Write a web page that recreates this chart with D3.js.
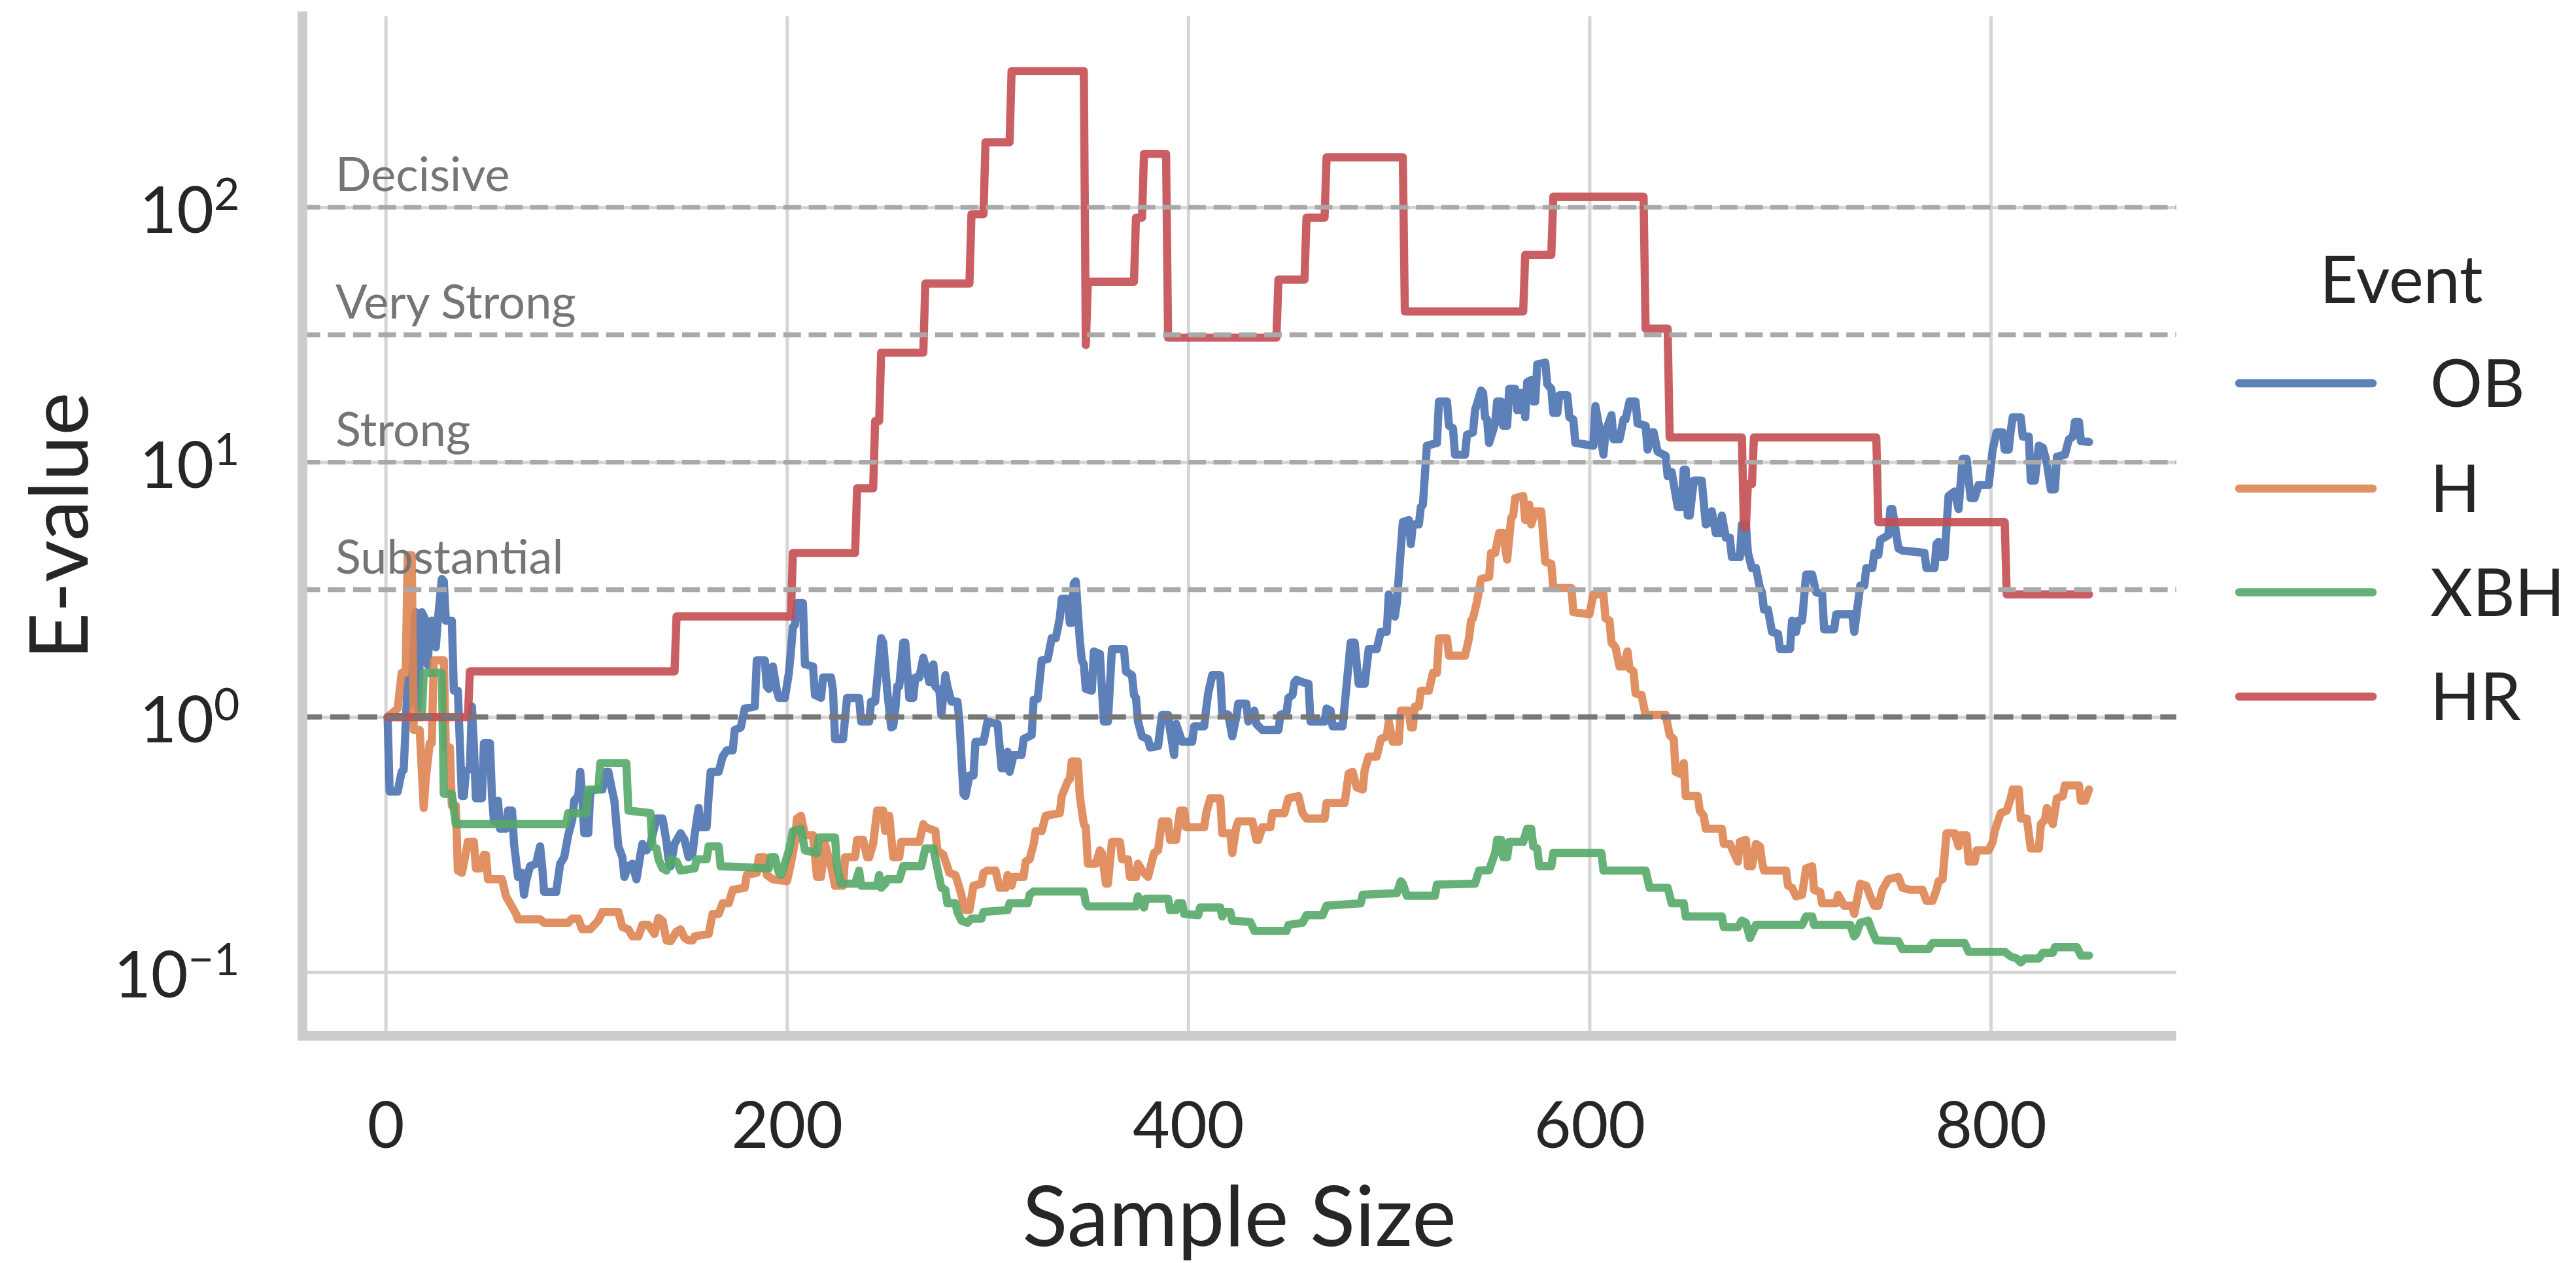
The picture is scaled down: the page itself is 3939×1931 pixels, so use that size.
<!DOCTYPE html>
<html>
<head>
<meta charset="utf-8">
<script src="https://cdn.jsdelivr.net/npm/d3@7"></script>
<style>
  html, body { margin: 0; padding: 0; background: #ffffff; }
  svg { display: block; }
  text { font-family: Lato, "Noto Sans", "DejaVu Sans", sans-serif; }
</style>
</head>
<body>
<svg id="chart" width="3939" height="1931"></svg>
<script>
// ---- data ---------------------------------------------------------------
const events = ["OB", "H", "XBH", "HR"];
const palette = ["#4C72B0", "#DD8452", "#55A868", "#C44E52"];

const xTicks = [0, 200, 400, 600, 800];
const yTicks = [0.1, 1, 10, 100];
const yTickExponents = ["\u22121", "0", "1", "2"];

// Jeffreys evidence thresholds
const thresholdValues = [3.162, 10, 31.62, 100];
const thresholdLabels = ["Substantial", "Strong", "Very Strong", "Decisive"];
const neutralValue = 1;

// [sample size, E-value]
const OB = [[1,1.0],[2,0.51],[6,0.51],[8,0.61],[9,0.62],[11,1.40],[12,1.13],[13,1.37],[15,2.58],[16,1.08],[18,2.58],[20,2.39],[21,1.6],[22,2.30],[23,2.39],[25,1.88],[26,2.39],[28,3.48],[29,3.41],[30,2.39],[33,2.39],[34,1.27],[36,1.27],[38,0.49],[39,0.49],[40,0.61],[42,0.63],[43,1.10],[44,0.77],[45,0.48],[48,0.48],[49,0.79],[52,0.79],[53,0.49],[54,0.39],[56,0.47],[57,0.365],[60,0.365],[61,0.43],[63,0.43],[64,0.318],[66,0.236],[68,0.245],[69,0.201],[70,0.227],[72,0.26],[75,0.266],[77,0.311],[78,0.26],[79,0.206],[85,0.206],[87,0.266],[89,0.282],[91,0.344],[93,0.395],[94,0.47],[96,0.49],[97,0.61],[98,0.49],[99,0.35],[101,0.35],[102,0.51],[105,0.52],[108,0.52],[110,0.61],[111,0.61],[113,0.51],[114,0.47],[116,0.311],[118,0.282],[119,0.236],[121,0.26],[123,0.266],[125,0.231],[127,0.288],[128,0.318],[130,0.30],[132,0.318],[133,0.344],[135,0.40],[138,0.40],[140,0.324],[141,0.277],[142,0.26],[144,0.318],[147,0.35],
  [149,0.33],[151,0.282],[153,0.293],[154,0.344],[156,0.44],[157,0.37],[160,0.37],[161,0.49],[162,0.61],[166,0.61],[168,0.70],[170,0.74],[173,0.74],[174,0.89],[177,0.91],[179,1.08],[184,1.10],[185,1.67],[189,1.67],[190,1.32],[191,1.29],[193,1.58],[195,1.27],[196,1.19],[199,1.19],[201,1.49],[202,1.81],[203,2.25],[204,2.30],[205,2.80],[208,2.80],[209,1.61],[213,1.58],[214,1.22],[217,1.19],[218,1.43],[222,1.43],[223,1.27],[224,0.82],[228,0.82],[230,1.19],[236,1.19],[237,0.96],[241,0.96],[242,1.15],[244,1.15],[247,2.04],[248,1.96],[250,1.27],[252,0.91],[253,0.92],[254,1.06],[255,1.32],[256,1.32],[258,1.96],[259,1.96],[261,1.19],[263,1.19],[264,1.43],[266,1.43],[268,1.71],[270,1.49],[271,1.37],[273,1.61],[274,1.32],[276,1.27],[277,1.02],[279,1.46],[280,1.32],[282,1.15],[285,1.15],[286,0.96],[288,0.50],[289,0.49],[291,0.59],[293,0.59],[294,0.80],[298,0.80],[300,0.96],
  [305,0.94],[307,0.63],[309,0.63],[310,0.73],[311,0.61],[313,0.71],[317,0.71],[318,0.82],[322,0.85],[323,1.17],[325,1.18],[327,1.67],[330,1.69],[332,2.04],[334,2.04],[336,2.44],[337,2.91],[340,2.91],[341,2.34],[342,2.34],[343,3.34],[344,3.41],[346,2.00],[347,1.67],[348,1.61],[349,1.29],[352,1.27],[353,1.81],[356,1.77],[358,0.96],[360,0.96],[362,1.85],[368,1.85],[369,1.51],[372,1.46],[373,1.22],[374,1.19],[375,0.96],[377,0.84],[380,0.82],[381,0.76],[385,0.77],[387,1.02],[390,1.02],[391,0.89],[393,0.71],[394,0.94],[397,0.80],[402,0.80],[403,0.92],[408,0.92],[409,1.08],[410,1.24],[412,1.46],[416,1.46],[417,1.04],[420,1.02],[422,0.84],[424,1.0],[425,1.13],[429,1.13],[430,0.96],[433,1.06],[434,0.94],[437,0.89],[445,0.89],[446,1.02],[449,1.04],[450,1.19],[452,1.22],[453,1.37],
  [454,1.40],[457,1.37],[460,1.35],[461,0.96],[468,0.96],[469,1.08],[471,1.06],[472,0.92],[477,0.92],[481,1.96],[483,1.96],[485,1.35],[488,1.35],[490,1.85],[494,1.85],[496,2.16],[499,2.16],[500,3.03],[503,2.48],[504,2.80],[507,5.82],[510,5.93],[511,4.77],[512,5.70],[515,5.70],[516,6.68],[517,6.81],[519,11.6],[524,11.9],[525,17.3],[529,17.3],[530,13.9],[532,13.6],[533,10.7],[538,10.7],[539,12.8],[542,13.1],[543,16.0],[546,19.1],[547,18.7],[548,15.0],[549,14.7],[550,11.9],[553,14.2],[554,17.3],[556,17.3],[557,13.9],[559,13.9],[560,19.4],[563,19.4],[564,16.0],[565,16.0],[566,18.7],[567,18.3],[568,15.0],[569,20.6],[571,21.0],[572,17.3],[573,17.3],[574,24.2],[578,24.6],[579,20.2],[581,19.4],[582,15.6],[584,15.6],[585,18.3],[589,18.3],[590,15.0],[592,14.7],[593,11.9],[602,11.6],[603,16.6],[605,13.6],[607,10.7],
  [608,13.1],[611,15.3],[612,12.3],[615,12.3],[617,14.7],[618,14.7],[620,17.3],[623,17.3],[624,14.2],[628,13.9],[629,11.2],[631,13.1],[632,13.1],[634,11.0],[638,10.6],[639,8.81],[641,9.16],[644,6.68],[646,6.68],[647,9.35],[648,9.35],[649,6.17],[650,6.17],[652,8.47],[656,8.47],[658,5.70],[660,5.82],[661,6.42],[663,5.27],[665,5.27],[666,6.17],[668,5.06],[670,5.06],[671,4.24],[675,4.24],[676,5.70],[678,5.70],[679,4.41],[681,3.84],[683,3.84],[685,3.21],[686,3.09],[687,2.64],[689,2.64],[691,2.16],[694,2.12],[695,1.85],[700,1.85],[701,2.39],[703,2.16],[704,2.39],[706,2.39],[708,3.62],[711,3.62],[713,3.09],[716,3.03],[717,2.21],[722,2.21],[723,2.53],[731,2.53],[732,2.16],[735,3.28],[737,3.28],[738,3.84],[741,3.84],[742,4.41],[744,4.32],[745,4.96],[749,5.17],[750,6.55],[751,6.55],[754,4.59],[756,4.50],
  [767,4.41],[768,3.84],[772,3.84],[773,4.77],[774,4.87],[775,4.24],[777,4.24],[779,7.37],[782,7.67],[784,6.55],[786,10.3],[788,10.3],[790,7.23],[792,7.23],[794,8.14],[799,8.14],[801,11.2],[803,13.1],[806,13.1],[807,11.2],[809,11.2],[810,13.3],[811,15.0],[815,15.0],[816,12.6],[819,12.6],[820,8.47],[822,8.47],[824,11.6],[826,11.4],[828,9.93],[830,7.82],[832,7.82],[833,10.5],[837,10.7],[839,12.3],[841,12.6],[842,14.4],[844,14.4],[845,12.1],[849,12.0]];

const H = [[1,1.0],[6,1.08],[8,1.49],[10,1.49],[11,4.32],[13,4.32],[14,0.89],[17,0.89],[19,0.44],[20,0.57],[22,0.79],[23,0.79],[24,1.67],[29,1.67],[30,0.76],[32,0.76],[33,0.45],[35,0.45],[36,0.25],[38,0.245],[40,0.293],[41,0.324],[44,0.324],[45,0.255],[47,0.255],[49,0.288],[50,0.288],[51,0.231],[58,0.231],[60,0.198],[62,0.186],[65,0.169],[66,0.161],[77,0.161],[79,0.156],[91,0.156],[93,0.162],[96,0.162],[98,0.147],[102,0.147],[104,0.153],[106,0.159],[108,0.172],[116,0.172],[118,0.15],[121,0.147],[123,0.138],[126,0.138],[128,0.153],[131,0.153],[134,0.141],[136,0.163],[138,0.159],[140,0.133],[142,0.132],[145,0.144],[147,0.147],
  [149,0.136],[151,0.133],[153,0.133],[154,0.138],[161,0.141],[163,0.169],[166,0.169],[168,0.186],[171,0.186],[173,0.21],[179,0.214],[180,0.24],[185,0.245],[186,0.282],[189,0.282],[190,0.24],[193,0.231],[200,0.227],[202,0.266],[204,0.324],[205,0.40],[207,0.41],[209,0.344],[213,0.344],[215,0.236],[217,0.236],[219,0.318],[222,0.26],[224,0.218],[228,0.218],[229,0.282],[234,0.282],[235,0.33],[238,0.33],[240,0.282],[241,0.282],[243,0.318],[245,0.43],[248,0.43],[249,0.357],[251,0.41],[253,0.282],[256,0.282],[257,0.324],[266,0.324],[268,0.38],[269,0.37],[274,0.357],[275,0.30],[278,0.288],[281,0.245],[284,0.24],[286,0.214],[289,0.175],[291,0.175],[293,0.218],[297,0.222],[298,0.245],[300,0.25],
  [304,0.25],[306,0.214],[309,0.214],[310,0.24],[312,0.218],[313,0.236],[318,0.236],[319,0.271],[321,0.277],[323,0.318],[324,0.357],[327,0.357],[329,0.41],[336,0.42],[337,0.49],[340,0.56],[341,0.57],[342,0.67],[345,0.67],[346,0.49],[348,0.38],[349,0.37],[350,0.266],[354,0.266],[356,0.30],[357,0.293],[359,0.222],[360,0.222],[362,0.324],[366,0.324],[367,0.277],[370,0.277],[371,0.236],[374,0.236],[375,0.266],[377,0.25],[380,0.236],[383,0.293],[385,0.30],[386,0.344],[387,0.39],[390,0.39],[391,0.33],[394,0.33],[396,0.43],[398,0.43],[399,0.37],[408,0.37],[409,0.42],[411,0.48],[416,0.48],[417,0.35],[421,0.35],[422,0.293],[424,0.37],[425,0.39],[432,0.39],[434,0.33],[435,0.33],[437,0.37],[441,0.37],[442,0.42],[448,0.42],[450,0.48],[455,0.49],
  [457,0.42],[459,0.40],[468,0.40],[469,0.46],[478,0.46],[480,0.60],[482,0.61],[484,0.53],[487,0.52],[488,0.62],[490,0.70],[494,0.70],[496,0.82],[499,0.84],[500,0.96],[502,0.80],[505,0.80],[506,1.06],[510,1.06],[511,0.91],[512,0.91],[513,1.10],[515,1.10],[516,1.27],[520,1.27],[522,1.49],[524,1.49],[525,2.04],[529,2.04],[530,1.74],[538,1.74],[540,2.04],[541,2.39],[542,2.44],[544,2.85],[546,3.48],[550,3.55],[551,4.41],[553,4.41],[555,5.27],[557,5.27],[559,4.15],[561,6.05],[562,6.17],[563,7.23],[567,7.37],[568,5.93],[570,6.81],[571,5.70],[573,6.42],[576,6.42],[578,4.07],[581,3.99],[582,3.21],[591,3.21],[592,2.58],[600,2.53],[602,3.03],[607,3.03],[608,2.44],[610,2.39],[611,1.96],[613,1.88],[615,1.58],[617,1.58],[619,1.81],[620,1.55],[622,1.51],[623,1.24],[626,1.22],[628,1.02],[638,1.02],[640,0.85],[642,0.82],[643,0.61],[645,0.60],[647,0.66],[648,0.49],[654,0.49],[655,0.43],[657,0.41],[658,0.365],[666,0.365],[667,0.318],[670,0.318],[674,0.271],[675,0.324],[678,0.33],[679,0.26],[681,0.26],[683,0.318],[685,0.311],[686,0.271],[687,0.25],[698,0.25],[699,0.218],[701,0.214],[703,0.198],[706,0.201],[708,0.255],[711,0.26],[712,0.21],[715,0.206],[716,0.186],[723,0.186],[724,0.201],[727,0.182],[731,0.182],[732,0.169],[735,0.222],[738,0.218],[740,0.198],[742,0.182],[744,0.182],[746,0.21],[749,0.231],[754,0.236],[756,0.214],[760,0.21],
  [766,0.21],[768,0.19],[771,0.19],[773,0.21],[774,0.227],[776,0.231],[778,0.35],[782,0.35],[784,0.311],[785,0.344],[788,0.344],[789,0.271],[792,0.271],[793,0.30],[799,0.30],[801,0.324],[802,0.357],[805,0.42],[808,0.43],[810,0.48],[811,0.52],[814,0.52],[815,0.40],[818,0.40],[820,0.305],[824,0.305],[825,0.38],[827,0.395],[828,0.44],[831,0.38],[833,0.48],[836,0.49],[837,0.54],[844,0.54],[845,0.47],[847,0.47],[849,0.52]];

const XBH = [[1,1.0],[18,1.0],[19,1.49],[28,1.49],[29,0.50],[33,0.50],[35,0.38],[90,0.38],[91,0.42],[100,0.42],[101,0.52],[106,0.52],[107,0.66],[120,0.66],[121,0.43],[132,0.42],[133,0.311],[135,0.305],[136,0.277],[138,0.255],[140,0.25],[142,0.277],[145,0.271],[147,0.25],[154,0.255],[155,0.277],[160,0.277],[161,0.311],[166,0.311],[167,0.26],[191,0.255],[192,0.282],[194,0.282],[196,0.245],[197,0.24],[199,0.266],[201,0.30],[203,0.357],[207,0.365],[209,0.30],[215,0.293],[216,0.337],[224,0.337],[225,0.26],[227,0.222],[234,0.222],[236,0.25],[237,0.218],[245,0.218],[246,0.24],[247,0.214],[249,0.222],[250,0.231],[256,0.231],[258,0.26],[267,0.26],[269,0.305],[273,0.305],[275,0.255],[277,0.214],[279,0.21],[280,0.186],[284,0.186],[285,0.172],[287,0.159],[290,0.156],[292,0.162],[297,0.162],[298,0.172],[310,0.175],[311,0.186],[320,0.186],[321,0.201],[323,0.207],[348,0.207],[349,0.186],[350,0.181],[374,0.181],[375,0.198],[378,0.179],[379,0.194],[390,0.194],[391,0.175],[394,0.175],[395,0.186],[397,0.186],[398,0.169],[405,0.167],[406,0.179],[416,0.179],[417,0.165],[418,0.172],[421,0.172],[422,0.159],[431,0.157],[433,0.145],[449,0.145],[450,0.153],[457,0.156],[459,0.167],[467,0.167],[469,0.182],[486,0.186],[487,0.201],[504,0.204],[506,0.227],[507,0.222],[509,0.199],[523,0.199],[524,0.22],[543,0.222],[545,0.25],[550,0.251],[553,0.293],[554,0.33],[556,0.33],[557,0.282],[559,0.282],[560,0.324],[567,0.324],[569,0.365],[571,0.365],[572,0.311],[574,0.305],[575,0.26],[581,0.26],[582,0.293],[606,0.293],[607,0.25],[628,0.25],[630,0.214],[639,0.214],[641,0.186],[647,0.186],[648,0.165],[666,0.165],[667,0.15],[674,0.15],[676,0.159],[678,0.156],[680,0.136],[682,0.147],[683,0.153],[706,0.153],[708,0.165],[711,0.165],[712,0.153],[730,0.153],[732,0.138],[733,0.141],[735,0.156],[739,0.159],[741,0.144],[743,0.133],[754,0.132],[756,0.123],[769,0.123],[771,0.13],[787,0.13],[789,0.12],[807,0.12],[810,0.115],[813,0.113],[815,0.109],[817,0.113],[824,0.113],[826,0.119],[831,0.119],[832,0.125],[843,0.125],[845,0.116],[849,0.116]];

const HR = [[1,1],[41,1],[42,1.51],[144,1.51],[145,2.48],[202,2.48],[203,4.4],[234,4.4],[235,7.9],[243,7.9],[244,14.5],[246,14.5],[247,26.9],[268,26.9],[269,50.2],[291,50.2],[292,94],[298,94],[299,180],[311,180],[312,342],[348,342],[349,28.8],[350,51],[373,51],[374,91],[377,91],[378,162],[389,162],[390,30.8],[444,30.8],[445,52],[458,52],[459,91],[468,91],[469,157],[507,157],[508,39],[567,39],[568,65],[581,65],[582,110],[627,110],[628,33.4],[639,33.4],[640,12.5],[676,12.5],[677,5.55],[678,5.55],[679,8.2],[681,8.2],[682,12.5],[743,12.5],[744,5.82],[807,5.82],[808,3.03],[849,3.03]];

const seriesData = [OB, H, XBH, HR];

// ---- layout -------------------------------------------------------------
const plot = { left: 462.5, right: 3327.6, top: 25, bottom: 1583.5 };
const ink = "#262626";

const x = d3.scaleLinear().domain([-41.45, 892.45]).range([plot.left, plot.right]);
const y = d3.scaleLog().domain([Math.pow(10, -1.25), Math.pow(10, 2.749)]).range([plot.bottom, plot.top]);

const svg = d3.select("#chart");

// ---- grid ---------------------------------------------------------------
const gridX = svg.append("g")
  .attr("transform", `translate(0,${plot.bottom})`)
  .call(d3.axisBottom(x).tickValues(xTicks).tickSize(-(plot.bottom - plot.top)).tickFormat(""));
gridX.select(".domain").remove();
gridX.selectAll("line").attr("stroke", "#d5d5d5").attr("stroke-width", 5);

const gridY = svg.append("g")
  .attr("transform", `translate(${plot.left},0)`)
  .call(d3.axisLeft(y).tickValues(yTicks).tickSize(-(plot.right - plot.left)).tickFormat(""));
gridY.select(".domain").remove();
gridY.selectAll("line").attr("stroke", "#d5d5d5").attr("stroke-width", 5);

// ---- series -------------------------------------------------------------
const line = d3.line().x(d => x(d[0])).y(d => y(d[1]));
seriesData.forEach((data, i) => {
  svg.append("path")
    .attr("d", line(data))
    .attr("fill", "none")
    .attr("stroke", palette[i])
    .attr("stroke-opacity", 0.9)
    .attr("stroke-width", 12.5)
    .attr("stroke-linejoin", "round")
    .attr("stroke-linecap", "round");
});

// ---- reference lines ----------------------------------------------------
thresholdValues.forEach(v => {
  svg.append("line")
    .attr("x1", plot.left).attr("x2", plot.right)
    .attr("y1", y(v)).attr("y2", y(v))
    .attr("stroke", "#a9a9a9")
    .attr("stroke-width", 7.3)
    .attr("stroke-dasharray", "27 11.7");
});
svg.append("line")
  .attr("x1", plot.left).attr("x2", plot.right)
  .attr("y1", y(neutralValue)).attr("y2", y(neutralValue))
  .attr("stroke", "#777777")
  .attr("stroke-width", 8)
  .attr("stroke-dasharray", "29.6 12.8");

thresholdValues.forEach((v, i) => {
  svg.append("text")
    .attr("x", 513)
    .attr("y", y(v) - 25)
    .attr("font-size", 72)
    .attr("fill", "#757575")
    .text(thresholdLabels[i]);
});

// ---- spines -------------------------------------------------------------
svg.append("line")
  .attr("x1", plot.left).attr("x2", plot.left)
  .attr("y1", plot.top).attr("y2", plot.bottom)
  .attr("stroke", "#cccccc").attr("stroke-width", 15)
  .attr("stroke-linecap", "square");
svg.append("line")
  .attr("x1", plot.left - 7.5).attr("x2", plot.right)
  .attr("y1", plot.bottom).attr("y2", plot.bottom)
  .attr("stroke", "#cccccc").attr("stroke-width", 15);

// ---- axes ---------------------------------------------------------------
const xAxis = svg.append("g")
  .attr("transform", `translate(0,${plot.bottom})`)
  .call(d3.axisBottom(x).tickValues(xTicks).tickSize(0).tickFormat(d3.format("d")));
xAxis.attr("font-size", null).attr("font-family", null);
xAxis.select(".domain").remove();
xAxis.selectAll("text")
  .attr("dy", null)
  .attr("y", 1755 - plot.bottom)
  .attr("font-size", 98)
  .attr("fill", ink);

const yAxis = svg.append("g")
  .attr("transform", `translate(${plot.left},0)`)
  .call(d3.axisLeft(y).tickValues(yTicks).tickSize(0).tickPadding(96));
yAxis.attr("font-size", null).attr("font-family", null);
yAxis.select(".domain").remove();
yAxis.selectAll("text").each(function (d) {
  const t = d3.select(this);
  const k = yTicks.indexOf(d);
  t.text(null)
    .attr("dy", null)
    .attr("y", 38.6)
    .attr("font-size", 98)
    .attr("fill", ink);
  t.append("tspan").text("10");
  t.append("tspan")
    .attr("dy", -34.6)
    .attr("font-size", 68)
    .text(yTickExponents[k]);
});

svg.append("text")
  .attr("x", (plot.left + plot.right) / 2)
  .attr("y", 1905)
  .attr("text-anchor", "middle")
  .attr("font-size", 128)
  .attr("fill", ink)
  .text("Sample Size");

svg.append("text")
  .attr("transform", `translate(134,${(plot.top + plot.bottom) / 2}) rotate(-90)`)
  .attr("text-anchor", "middle")
  .attr("font-size", 125)
  .attr("fill", ink)
  .text("E-value");

// ---- legend -------------------------------------------------------------
const legend = svg.append("g");
legend.append("text")
  .attr("x", 3672).attr("y", 463)
  .attr("text-anchor", "middle")
  .attr("font-size", 100)
  .attr("fill", ink)
  .text("Event");
const legendRows = [586, 747, 905.5, 1065];
events.forEach((name, i) => {
  legend.append("line")
    .attr("x1", 3424).attr("x2", 3628)
    .attr("y1", legendRows[i]).attr("y2", legendRows[i])
    .attr("stroke", palette[i])
    .attr("stroke-opacity", 0.9)
    .attr("stroke-width", 12.5)
    .attr("stroke-linecap", "round");
  legend.append("text")
    .attr("x", 3716).attr("y", legendRows[i] + 36)
    .attr("font-size", 100)
    .attr("fill", ink)
    .text(name);
});
</script>
</body>
</html>
